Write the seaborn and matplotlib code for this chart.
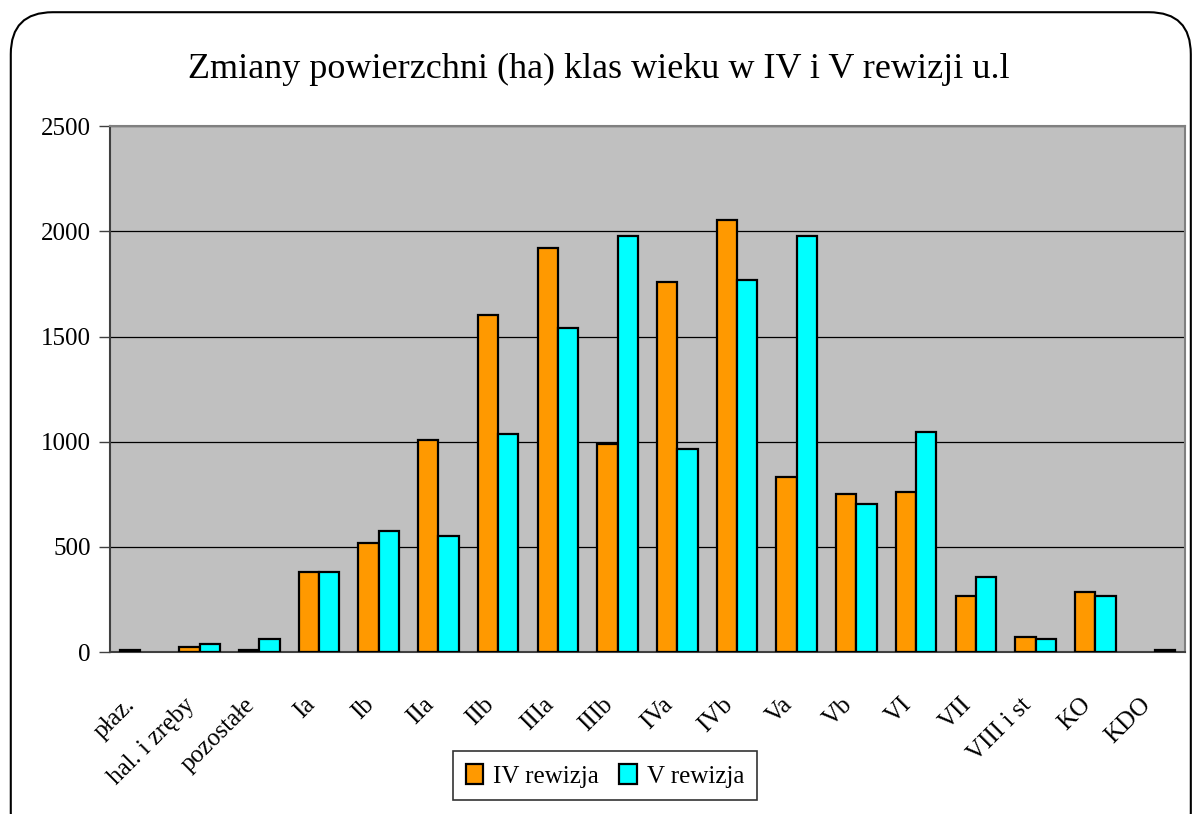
import pandas as pd
import seaborn as sns
from matplotlib import pyplot as plt
from matplotlib.patches import FancyBboxPatch

# age classes and area (ha) in the two revisions
classes = ["płaz.", "hal. i zręby", "pozostałe", "Ia", "Ib", "IIa", "IIb", "IIIa",
           "IIIb", "IVa", "IVb", "Va", "Vb", "VI", "VII", "VIII i st", "KO", "KDO"]
rev_iv = [8, 25, 8, 380, 520, 1010, 1600, 1920, 990, 1760, 2055, 830, 750, 760, 265, 70, 287, 0]
rev_v = [0, 38, 60, 380, 575, 552, 1035, 1540, 1977, 965, 1768, 1977, 703, 1046, 358, 60, 266, 8]
series = ["IV rewizja", "V rewizja"]
yticks = [0, 500, 1000, 1500, 2000, 2500]

df = pd.DataFrame({
    "klasa": classes * 2,
    "pow": rev_iv + rev_v,
    "rewizja": [series[0]] * len(classes) + [series[1]] * len(classes),
})

sns.set_style("white")
plt.rcParams['font.family'] = ['Liberation Serif', 'DejaVu Serif']
plt.rcParams['text.color'] = 'black'
plt.rcParams['xtick.color'] = 'black'
plt.rcParams['ytick.color'] = 'black'

fig = plt.figure(figsize=(11.98, 8.14), dpi=100)
ax = fig.add_axes([0.0918, 0.199, 0.8972, 0.646])

sns.barplot(data=df, x="klasa", y="pow", hue="rewizja", order=classes,
            palette=["#FF9900", "#00FFFF"], width=0.68, edgecolor="black",
            linewidth=1.6, saturation=1, ax=ax, zorder=3)

# empty classes get no outline
for cont in ax.containers:
    for bar in cont:
        if bar.get_height() == 0:
            bar.set_linewidth(0)

ax.set_facecolor("#C0C0C0")
ax.set_ylim(0, 2500)
ax.set_xlim(-0.5, len(classes) - 0.5)
ax.set_yticks(yticks)
ax.set_yticklabels([str(v) for v in yticks], fontsize=18)
ax.yaxis.grid(True, color="black", linewidth=0.9, zorder=0)
ax.set_axisbelow(True)
ax.set_xlabel("")
ax.set_ylabel("")

# ticks between categories, labels at centres
ax.set_xticks(range(len(classes)))
ax.set_xticklabels(classes, rotation=45, ha="right", va="top", fontsize=18)
ax.set_xticks([i - 0.5 for i in range(len(classes) + 1)], minor=True)
ax.tick_params(axis="x", which="major", length=0, pad=30)
ax.tick_params(axis="x", which="minor", length=8, width=1, color="#404040", direction="out")
ax.tick_params(axis="y", length=8, width=1, color="#404040", direction="out", pad=6, left=True)

for side in ["top", "right"]:
    ax.spines[side].set_color("#808080")
    ax.spines[side].set_linewidth(1.5)
for side in ["left", "bottom"]:
    ax.spines[side].set_color("#404040")
    ax.spines[side].set_linewidth(1.5)

ax.legend_.remove()
handles, labels = ax.get_legend_handles_labels()
leg = fig.legend(handles, labels, loc="center", bbox_to_anchor=(0.505, 0.047), ncol=2,
                 fontsize=18, frameon=True, fancybox=False, edgecolor="black",
                 handlelength=0.7, handleheight=0.9, handletextpad=0.4, columnspacing=0.8,
                 borderpad=0.5)
leg.get_frame().set_linewidth(1.2)
for h in leg.legend_handles:
    h.set_edgecolor("black")
    h.set_linewidth(1.6)

fig.suptitle("Zmiany powierzchni (ha) klas wieku w IV i V rewizji u.l", y=0.935,
             fontsize=26, color="black")

# rounded chart border like the spreadsheet chart area
border = FancyBboxPatch((0.009, -0.05), 0.985, 1.035, boxstyle="round,pad=0,rounding_size=0.035",
                        transform=fig.transFigure, fill=False, edgecolor="black", linewidth=1.5,
                        mutation_aspect=1198 / 814)
fig.patches.append(border)

plt.savefig("out.png", dpi=100)
